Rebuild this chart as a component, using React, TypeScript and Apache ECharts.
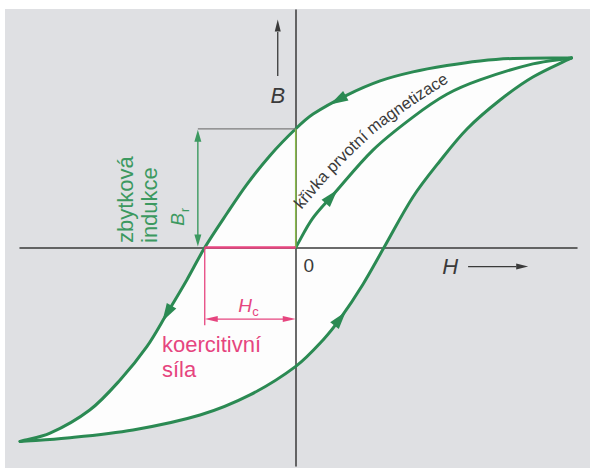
import React, { useEffect, useRef } from "react";
import * as echarts from "echarts";

// Hysteresis loop in normalised units (H and B relative to saturation).
// Descending branch: from +saturation down to -saturation.
const descendingH = [1.0, 0.788, 0.668, 0.548, 0.425, 0.306, 0.186, 0.063, 0, -0.093, -0.177, -0.249, -0.33, -0.395, -0.467, -0.54, -0.637, -0.747, -0.891, -1.0];
const descendingB = [0.99, 0.987, 0.974, 0.95, 0.917, 0.87, 0.796, 0.697, 0.62, 0.481, 0.33, 0.179, 0, -0.169, -0.344, -0.517, -0.691, -0.848, -0.969, -1.012];
// Ascending branch: from -saturation back up to +saturation.
const ascendingH = [-1.0, -0.829, -0.59, -0.347, -0.166, 0, 0.099, 0.161, 0.244, 0.32, 0.425, 0.523, 0.621, 0.741, 0.86, 1.0];
const ascendingB = [-1.012, -0.994, -0.952, -0.874, -0.769, -0.62, -0.482, -0.371, -0.191, 0, 0.264, 0.452, 0.619, 0.77, 0.89, 0.99];
// Initial magnetisation curve from the demagnetised state.
const virginH = [0, 0.06, 0.135, 0.28, 0.425, 0.548, 0.668, 0.86, 1.0];
const virginB = [0, 0.15, 0.275, 0.509, 0.681, 0.8, 0.875, 0.959, 0.99];

const remanence = 0.62; // B_r
const coercivity = 0.33; // H_c

// Direction arrows placed on the curves, by H position.
const arrowCurves = ["descending", "descending", "ascending", "virgin"];
const arrowH = [0.153, -0.467, 0.161, 0.13];

const GREEN = "#2b8a53";
const GREEN_TEXT = "#3c9960";
const PINK = "#e6457f";
const INK = "#3a3a3a";
const FONT = '"Liberation Sans", Arial, sans-serif';

const pairs = (hs: number[], bs: number[]) => hs.map((h, i) => [h, bs[i]]);

const unit = (a: number[], b: number[]) => {
  const dx = b[0] - a[0], dy = b[1] - a[1];
  const l = Math.hypot(dx, dy) || 1;
  return [dx / l, dy / l];
};

// Smooth cubic path through pixel points (tangent at each point follows its neighbours).
const splinePath = (pts: number[][], move: boolean) => {
  const n = pts.length;
  const tan = pts.map((_, i) => unit(pts[Math.max(0, i - 1)], pts[Math.min(n - 1, i + 1)]));
  let d = move ? `M${pts[0][0]} ${pts[0][1]}` : "";
  for (let i = 0; i < n - 1; i++) {
    const a = pts[i], b = pts[i + 1];
    const L = Math.hypot(b[0] - a[0], b[1] - a[1]) / 3;
    d += `C${a[0] + tan[i][0] * L} ${a[1] + tan[i][1] * L} ${b[0] - tan[i + 1][0] * L} ${b[1] - tan[i + 1][1] * L} ${b[0]} ${b[1]}`;
  }
  return d;
};

export default function App() {
  const ref = useRef<HTMLDivElement>(null);

  useEffect(() => {
    const chart = echarts.init(ref.current!, undefined, { renderer: "svg" });
    const curves: Record<string, number[][]> = {
      descending: pairs(descendingH, descendingB),
      ascending: pairs(ascendingH, ascendingB),
      virgin: pairs(virginH, virginB),
    };
    const hiddenAxis = {
      type: "value",
      z: 2,
      axisLine: { onZero: true, lineStyle: { color: INK, width: 1.5 } },
      axisTick: { show: false },
      axisLabel: { show: false },
      splitLine: { show: false },
    };
    const coordsOf = (api: any, c: number[][]) => c.map((d) => api.coord(d));

    chart.setOption({
      animation: false,
      backgroundColor: "#dfe0e3",
      grid: { left: 20, right: 13, top: 10, bottom: 2 },
      xAxis: { ...hiddenAxis, min: -1, max: 1.02 },
      yAxis: { ...hiddenAxis, min: -1.14, max: 1.24 },
      series: [
        {
          // white interior of the loop
          type: "custom",
          z: 1,
          silent: true,
          clip: false,
          data: [[0, 0]],
          renderItem: (_p: any, api: any) => ({
            type: "path",
            shape: {
              pathData:
                splinePath(coordsOf(api, curves.descending), true) +
                splinePath(coordsOf(api, curves.ascending), false) +
                "Z",
            },
            style: { fill: "#fdfdfd", stroke: "none" },
          }),
        },
        {
          // loop branches and the initial magnetisation curve
          type: "custom",
          z: 3,
          silent: true,
          clip: false,
          data: [[0, 0]],
          renderItem: (_p: any, api: any) => ({
            type: "group",
            children: ["descending", "ascending", "virgin"].map((k) => ({
              type: "path",
              shape: { pathData: splinePath(coordsOf(api, curves[k]), true) },
              style: { stroke: GREEN, lineWidth: 3, fill: "none", lineJoin: "round", lineCap: "round" },
            })),
          }),
        },
      ],
    });

    const P = (h: number, b: number) => chart.convertToPixel({ gridIndex: 0 }, [h, b]) as number[];

    const head = (tip: number[], dir: number[], len: number, hw: number, fill: string) => {
      const [dx, dy] = dir;
      const nx = -dy, ny = dx;
      const bx = tip[0] - dx * len, by = tip[1] - dy * len;
      return {
        type: "polygon",
        z: 20,
        silent: true,
        shape: { points: [tip, [bx + nx * hw, by + ny * hw], [bx - nx * hw, by - ny * hw]] },
        style: { fill },
      };
    };
    const seg = (a: number[], b: number[], stroke: string, lineWidth: number) => ({
      type: "line",
      z: 15,
      silent: true,
      shape: { x1: a[0], y1: a[1], x2: b[0], y2: b[1] },
      style: { stroke, lineWidth },
    });
    const doubleArrow = (a: number[], b: number[], color: string, w: number, len: number, hw: number) => {
      const d = unit(a, b);
      return [
        seg([a[0] + d[0] * len * 0.6, a[1] + d[1] * len * 0.6], [b[0] - d[0] * len * 0.6, b[1] - d[1] * len * 0.6], color, w),
        head(b, d, len, hw, color),
        head(a, [-d[0], -d[1]], len, hw, color),
      ];
    };
    const text = (x: number, y: number, t: string, font: string, fill: string, align = "center", rotation = 0) => ({
      type: "text",
      z: 25,
      silent: true,
      x,
      y,
      rotation,
      style: { text: t, font, fill, align, textAlign: align, verticalAlign: "middle", textVerticalAlign: "middle" },
    });

    const els: any[] = [];
    // paper edge
    els.push({ type: "rect", z: 30, silent: true, shape: { x: 0, y: 0, width: 590, height: 9 }, style: { fill: "#ffffff" } });
    els.push({ type: "rect", z: 30, silent: true, shape: { x: 0, y: 0, width: 5, height: 468 }, style: { fill: "#ffffff" } });

    // arrows along the curves
    arrowCurves.forEach((name, i) => {
      const c = curves[name];
      const h = arrowH[i];
      for (let j = 0; j < c.length - 1; j++) {
        if ((c[j][0] - h) * (c[j + 1][0] - h) <= 0 && c[j][0] !== c[j + 1][0]) {
          const t = (h - c[j][0]) / (c[j + 1][0] - c[j][0]);
          const a = P(c[j][0], c[j][1]);
          const b = P(c[j + 1][0], c[j + 1][1]);
          const m = [a[0] + (b[0] - a[0]) * t, a[1] + (b[1] - a[1]) * t];
          const d = unit(a, b);
          els.push(head([m[0] + d[0] * 9, m[1] + d[1] * 9], d, 18, 5.5, GREEN));
          break;
        }
      }
    });

    const O = P(0, 0);
    const brPt = P(0, remanence);
    const brMarkX = P(-0.355, 0)[0];
    const hcPt = P(-coercivity, 0);

    // remanence
    els.push(seg([brMarkX, brPt[1]], brPt, "#7d7d7d", 1.2));
    els.push({ ...seg(O, brPt, "#86b84a", 1.6), z: 4 });
    els.push(...doubleArrow([brMarkX, O[1] - 1], [brMarkX, brPt[1] + 1], GREEN_TEXT, 1.4, 12, 3.5));

    // coercivity
    els.push({ ...seg(hcPt, O, PINK, 2.5), z: 4 });
    els.push(seg(hcPt, [hcPt[0], P(0, -0.405)[1]], PINK, 1.3));
    const hcArrowY = P(0, -0.373)[1];
    els.push(...doubleArrow([hcPt[0], hcArrowY], [O[0], hcArrowY], PINK, 1.3, 13, 3));

    // axis direction arrows
    const bArrowX = O[0] - 18;
    els.push(seg([bArrowX, P(0, 0.895)[1]], [bArrowX, P(0, 1.125)[1]], INK, 1.3));
    els.push(head([bArrowX, P(0, 1.19)[1]], [0, -1], 12, 3, INK));
    const hArrowY = O[1] + 19;
    els.push(seg([P(0.625, 0)[0], hArrowY], [P(0.8, 0)[0], hArrowY], INK, 1.3));
    els.push(head([P(0.843, 0)[0], hArrowY], [1, 0], 12, 3, INK));

    // labels
    els.push(text(bArrowX, P(0, 0.796)[1], "B", `italic 22px ${FONT}`, INK));
    els.push(text(P(0.56, 0)[0], hArrowY, "H", `italic 22px ${FONT}`, INK));
    els.push(text(O[0] + 13, O[1] + 17.5, "0", `19px ${FONT}`, INK));
    els.push(text(245, 305, "H", `italic 19px ${FONT}`, PINK));
    els.push(text(255.5, 311, "c", `13px ${FONT}`, PINK));
    els.push(text(162, 344.8, "koercitivní", `22px ${FONT}`, PINK, "left"));
    els.push(text(162, 369, "síla", `22px ${FONT}`, PINK, "left"));
    els.push(text(125.7, 243, "zbytková", `22px ${FONT}`, GREEN_TEXT, "left", Math.PI / 2));
    els.push(text(149.4, 243, "indukce", `22px ${FONT}`, GREEN_TEXT, "left", Math.PI / 2));
    els.push(text(177.5, 219.5, "B", `italic 19px ${FONT}`, GREEN_TEXT, "center", Math.PI / 2));
    els.push(text(184.5, 210, "r", `12px ${FONT}`, GREEN_TEXT, "center", Math.PI / 2));

    // label running along the initial magnetisation curve
    const label = "křivka prvotní magnetizace";
    const labelFont = `16.5px ${FONT}`;
    const guide = [[298, 207], [325, 175], [350, 150], [372, 129], [395, 112], [420, 95], [447, 78]];
    const cum = [0];
    for (let i = 1; i < guide.length; i++) cum.push(cum[i - 1] + Math.hypot(guide[i][0] - guide[i - 1][0], guide[i][1] - guide[i - 1][1]));
    const total = cum[cum.length - 1];
    const at = (s: number) => {
      s = Math.max(0, Math.min(total, s));
      let i = 0;
      while (i < guide.length - 2 && cum[i + 1] < s) i++;
      const t = (s - cum[i]) / (cum[i + 1] - cum[i]);
      return [guide[i][0] + (guide[i + 1][0] - guide[i][0]) * t, guide[i][1] + (guide[i + 1][1] - guide[i][1]) * t];
    };
    const ctx = document.createElement("canvas").getContext("2d")!;
    ctx.font = labelFont;
    const widths = Array.from(label).map((ch) => ctx.measureText(ch).width);
    const sumW = widths.reduce((a, b) => a + b, 0);
    const k = total / sumW;
    let acc = 0;
    Array.from(label).forEach((ch, i) => {
      const s = (acc + widths[i] / 2) * k;
      acc += widths[i];
      if (ch === " ") return;
      const p = at(s);
      const d = unit(at(s - 7), at(s + 7));
      const up = [d[1], -d[0]];
      els.push(text(p[0] + up[0] * 1.5, p[1] + up[1] * 1.5, ch, labelFont, INK, "center", Math.atan2(-d[1], d[0])));
    });

    chart.setOption({ graphic: { elements: els } });

    return () => chart.dispose();
  }, []);

  return <div ref={ref} style={{ position: "fixed", left: 0, top: 0, width: 590, height: 468 }} />;
}
